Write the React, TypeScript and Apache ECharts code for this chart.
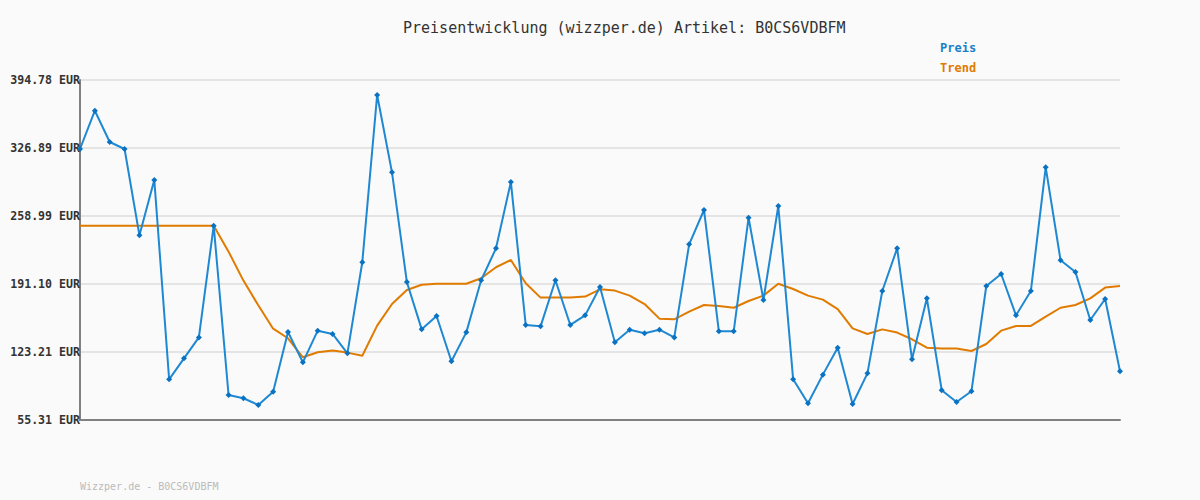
import React, { useEffect, useRef } from "react";
import * as echarts from "echarts";

const titleText = "Preisentwicklung (wizzper.de) Artikel: B0CS6VDBFM";
const footerText = "Wizzper.de - B0CS6VDBFM";
const seriesNames = ["Preis", "Trend"];
const yTicks = [55.31, 123.21, 191.1, 258.99, 326.89, 394.78];

const preis = [
  325.9, 364.1, 332.9, 325.9, 239.7, 295.0, 95.9, 116.9, 137.8, 249.3,
  80.3, 77.0, 70.3, 83.6, 143.2, 112.9, 144.5, 141.2, 121.9, 212.8,
  379.8, 302.6, 193.1, 145.8, 159.1, 114.0, 142.8, 194.8, 226.7, 293.0,
  150.2, 148.8, 194.8, 150.2, 159.8, 188.1, 132.9, 145.5, 141.9, 145.5,
  137.8, 230.7, 265.0, 143.8, 143.8, 257.3, 175.1, 269.0, 95.9, 72.0,
  100.6, 127.5, 71.3, 101.9, 184.1, 226.7, 115.9, 176.8, 85.0, 73.3,
  84.0, 189.1, 201.1, 159.8, 184.1, 307.6, 214.8, 203.1, 155.2, 176.1,
  104.0,
];

const trend = [
  249.3, 249.3, 249.3, 249.3, 249.3, 249.3, 249.3, 249.3, 249.3, 249.3,
  223.4, 194.5, 169.8, 146.5, 136.9, 117.9, 122.9, 124.6, 122.6, 119.5,
  149.5, 171.1, 185.1, 190.4, 191.4, 191.4, 191.4, 196.8, 207.8, 215.1,
  191.8, 177.5, 177.5, 177.5, 178.5, 185.8, 184.5, 179.5, 171.1, 156.5,
  155.8, 163.5, 170.1, 169.1, 167.4, 174.1, 179.5, 191.4, 186.1, 179.5,
  175.5, 166.1, 146.8, 141.2, 145.8, 142.6, 135.9, 127.5, 126.6, 126.6,
  124.2, 131.2, 144.5, 149.2, 149.2, 158.5, 167.4, 170.1, 176.8, 187.5,
  189.1,
];

const categories = preis.map((_, i) => String(i + 1));

const MONO = "'DejaVu Sans Mono', 'Liberation Mono', monospace";

export default function App() {
  const ref = useRef<HTMLDivElement>(null);
  useEffect(() => {
    document.body.style.margin = "0";
    if (!ref.current) return;
    const chart = echarts.init(ref.current, null, { renderer: "svg" });
    chart.setOption({
      animation: false,
      backgroundColor: "#fafafa",
      title: {
        text: titleText,
        left: 398,
        top: 15,
        textStyle: {
          fontFamily: MONO,
          fontSize: 15,
          fontWeight: "normal",
          color: "#333333",
        },
      },
      legend: {
        orient: "vertical",
        left: 935,
        top: 37,
        itemGap: 8,
        icon: "none",
        itemWidth: 0,
        itemHeight: 12,
        data: [
          { name: seriesNames[0], textStyle: { color: "#1a7fc8" } },
          { name: seriesNames[1], textStyle: { color: "#e07b00" } },
        ],
        textStyle: {
          fontFamily: MONO,
          fontSize: 12,
          fontWeight: "bold",
          padding: [0, 0, 0, -5],
        },
      },
      grid: { left: 80, right: 80, top: 80, bottom: 80, containLabel: false },
      xAxis: {
        type: "category",
        data: categories,
        boundaryGap: false,
        axisLine: { show: true, lineStyle: { color: "#808080", width: 2 } },
        axisTick: { show: false },
        axisLabel: { show: false },
        splitLine: { show: false },
      },
      yAxis: {
        type: "value",
        min: yTicks[0],
        max: yTicks[yTicks.length - 1],
        axisLine: { show: true, lineStyle: { color: "#808080", width: 2 } },
        axisTick: { show: false, customValues: yTicks },
        axisLabel: {
          customValues: yTicks,
          margin: 0,
          formatter: (v: number) => v.toFixed(2) + " EUR",
          fontFamily: MONO,
          fontSize: 11.6,
          fontWeight: "bold",
          color: "#333333",
        },
        splitLine: { show: true, lineStyle: { color: "#e4e4e4", width: 2 } },
      },
      graphic: [
        {
          type: "text",
          left: 80,
          top: 481,
          style: {
            text: footerText,
            fill: "#bbbbbb",
            font: "10px " + MONO,
          },
        },
      ],
      series: [
        {
          name: seriesNames[0],
          type: "line",
          data: preis,
          symbol: "diamond",
          symbolSize: 6,
          showSymbol: true,
          lineStyle: { color: "#1f88d2", width: 2 },
          itemStyle: { color: "#0a72c2" },
          z: 3,
        },
        {
          name: seriesNames[1],
          type: "line",
          data: trend,
          showSymbol: false,
          symbol: "none",
          lineStyle: { color: "#e07b00", width: 2 },
          itemStyle: { color: "#e07b00" },
          z: 2,
        },
      ],
    });
    return () => chart.dispose();
  }, []);
  return <div ref={ref} style={{ width: 1200, height: 500 }} />;
}
